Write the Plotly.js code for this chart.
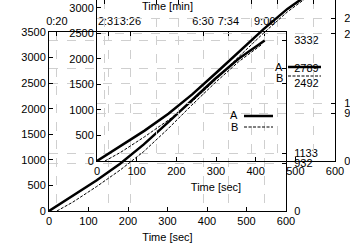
<!DOCTYPE html>
<html>
<head>
<meta charset="utf-8">
<script src="https://cdn.plot.ly/plotly-3.0.1.min.js"></script>
<style>html,body{margin:0;padding:0;background:#fff;}#chart{width:350px;height:245px;}</style>
</head>
<body>
<div id="chart"></div>
<script>
// Series A (thick solid) and B (thin dashed): time [sec] vs cumulative count
const timeA = [0, 60, 120, 180, 240, 300, 360, 420, 480, 546];
const countA = [0, 295, 595, 925, 1303, 1723, 2161, 2581, 2977, 3332];
const timeB = [20, 60, 120, 180, 240, 300, 360, 420, 480, 540];
const countB = [0, 172, 475, 800, 1164, 1597, 2059, 2504, 2918, 3263];
// event markers (top axis, seconds) and labels
const eventSec = [20, 151, 206, 390, 454, 546];
const eventLabels = ['0:20', '2:31', '3:26', '6:30', '7:34', '9:06'];
// right-axis marker values
const markVals = [0, 932, 1133, 2492, 2789, 3332];
const markLabels = ['0', '932', '1133', '2492', '2789', '3332'];
const seriesNames = ['A', 'B'];

const W = 350, H = 245;
const fx = p => p / W, fy = p => 1 - p / H;
const font = {family: 'Liberation Sans, Arial, sans-serif', size: 11, color: '#000'};
const gridStyle = {showgrid: true, gridcolor: '#cfcfcf', griddash: 'dash', gridwidth: 1};
const base = {showline: true, linecolor: '#000', linewidth: 1, ticks: 'inside', ticklen: 4,
  tickcolor: '#000', tickfont: font, zeroline: false, showgrid: false, automargin: false,
  fixedrange: true, tickangle: 0};

const lineA = {color: '#000', width: 2.5};
const lineB = {color: '#000', width: 1, dash: '3px,1.5px'};
const dummy = (xa, ya) => ({x: [null], y: [null], xaxis: xa, yaxis: ya, mode: 'lines', showlegend: false, hoverinfo: 'skip'});

const traces = [
  dummy('x2', 'y2'),
  dummy('x4', 'y4'),
  {x: timeA, y: countA, xaxis: 'x', yaxis: 'y', mode: 'lines', line: lineA, name: seriesNames[0], showlegend: false},
  {x: timeB, y: countB, xaxis: 'x', yaxis: 'y', mode: 'lines', line: lineB, name: seriesNames[1], showlegend: false},
  {x: timeA, y: countA, xaxis: 'x3', yaxis: 'y3', mode: 'lines', line: lineA, name: seriesNames[0], showlegend: false},
  {x: timeB, y: countB, xaxis: 'x3', yaxis: 'y3', mode: 'lines', line: lineB, name: seriesNames[1], showlegend: false}
];

const outerX = [fx(49), fx(286)], outerY = [fy(211), fy(32)];
const innerX = [fx(97), fx(335)], innerY = [fy(161), 1];
const innerTop = 161 / 0.0511;

const layout = {
  width: W, height: H, margin: {l: 0, r: 0, t: 0, b: 0},
  paper_bgcolor: '#fff', plot_bgcolor: 'rgba(0,0,0,0)', font: font, showlegend: false,
  xaxis: Object.assign({}, base, {domain: outerX, anchor: 'y', range: [0, 600], dtick: 100,
    title: {text: 'Time [sec]', font: font, standoff: 7}}),
  yaxis: Object.assign({}, base, {domain: outerY, anchor: 'x', range: [0, 3500], dtick: 500}),
  xaxis2: Object.assign({}, base, gridStyle, {overlaying: 'x', anchor: 'y', side: 'top', range: [0, 600],
    tickmode: 'array', tickvals: eventSec, ticktext: eventLabels, ticklabelstandoff: 2,
    title: {text: 'Time [min]', font: font, standoff: 2}}),
  yaxis2: Object.assign({}, base, gridStyle, {overlaying: 'y', anchor: 'x', side: 'right', range: [0, 3500],
    tickmode: 'array', tickvals: markVals, ticktext: markLabels, ticklabelstandoff: 5}),
  xaxis3: Object.assign({}, base, {domain: innerX, anchor: 'y3', range: [0, 600], dtick: 100,
    title: {text: 'Time [sec]', font: font, standoff: 7}}),
  yaxis3: Object.assign({}, base, {domain: innerY, anchor: 'x3', range: [0, innerTop], dtick: 500}),
  xaxis4: Object.assign({}, base, gridStyle, {overlaying: 'x3', anchor: 'y3', side: 'top', range: [0, 600],
    showline: false, showticklabels: false, tickmode: 'array', tickvals: eventSec}),
  yaxis4: Object.assign({}, base, gridStyle, {overlaying: 'y3', anchor: 'x3', side: 'right', range: [0, innerTop],
    tickmode: 'array', tickvals: markVals, ticktext: markLabels, ticklabelstandoff: 6}),
  annotations: [
    {xref: 'paper', yref: 'paper', x: fx(285), y: fy(67), text: seriesNames[0], showarrow: false, xanchor: 'right', yanchor: 'middle', font: font},
    {xref: 'paper', yref: 'paper', x: fx(285), y: fy(78), text: seriesNames[1], showarrow: false, xanchor: 'right', yanchor: 'middle', font: font},
    {xref: 'paper', yref: 'paper', x: fx(240), y: fy(115), text: seriesNames[0], showarrow: false, xanchor: 'right', yanchor: 'middle', font: font},
    {xref: 'paper', yref: 'paper', x: fx(240), y: fy(127), text: seriesNames[1], showarrow: false, xanchor: 'right', yanchor: 'middle', font: font}
  ],
  shapes: [
    {type: 'line', xref: 'paper', yref: 'paper', x0: fx(288), x1: fx(321), y0: fy(67), y1: fy(67), line: {color: '#000', width: 2.5}},
    {type: 'line', xref: 'paper', yref: 'paper', x0: fx(288), x1: fx(321), y0: fy(76), y1: fy(76), line: {color: '#000', width: 1, dash: '3px,1.5px'}},
    {type: 'line', xref: 'paper', yref: 'paper', x0: fx(244), x1: fx(273), y0: fy(116), y1: fy(116), line: {color: '#000', width: 2.5}},
    {type: 'line', xref: 'paper', yref: 'paper', x0: fx(244), x1: fx(273), y0: fy(127), y1: fy(127), line: {color: '#000', width: 1, dash: '3px,1.5px'}}
  ]
};

Plotly.newPlot('chart', traces, layout, {displayModeBar: false, staticPlot: true});
</script>
</body>
</html>
